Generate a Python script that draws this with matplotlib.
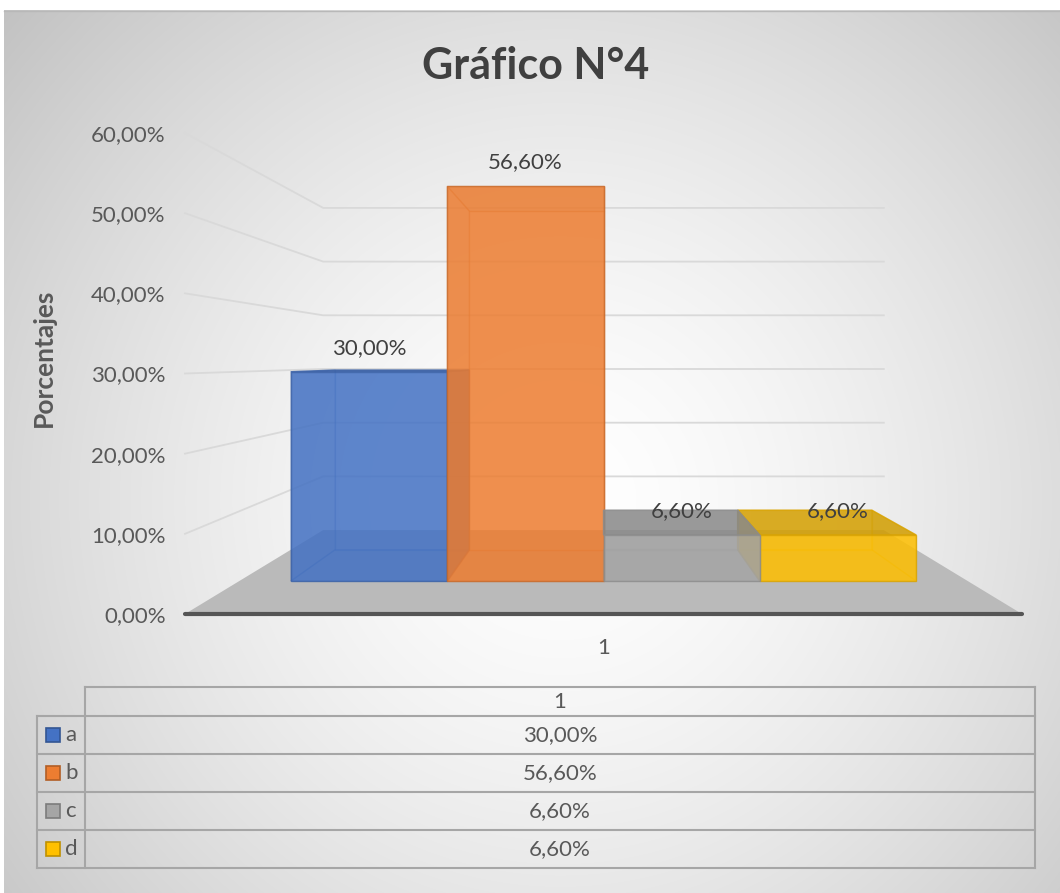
import numpy as np
import matplotlib
matplotlib.use("Agg")
import matplotlib.pyplot as plt
from matplotlib.patches import Polygon, Rectangle
from matplotlib.colors import to_rgb

plt.rcParams['font.family'] = ['Lato', 'DejaVu Sans']

# data
series = ["a", "b", "c", "d"]
values = [0.300, 0.566, 0.066, 0.066]
colors = ["#4472C4", "#ED7D31", "#A5A5A5", "#FFC000"]
category = "1"
yticks = [0.0, 0.1, 0.2, 0.3, 0.4, 0.5, 0.6]
title = "Gráfico N°4"
ylabel = "Porcentajes"

W, H = 1060, 893
TXT = "#595959"
FS = 16

def pct(v):
    return f"{v*100:.2f}%".replace(".", ",")

def frac(x0, y0, x1, y1):
    # pixel box -> figure fraction
    return [x0 / W, 1 - y1 / H, (x1 - x0) / W, (y1 - y0) / H]

def shade(c, f):
    r, g, b = to_rgb(c)
    return (r * f, g * f, b * f)

# 3d look (excel style perspective)
GAP = 0.33
Z_FRONT, Z_BACK, Z_WALL = 0.149, 0.339, 0.493
XC, YH = 2.0, 0.317

def proj(x, y, z):
    s = 1.0 / (1.0 + z)
    return (XC + s * (x - XC), YH + s * (y - YH))

fig = plt.figure(figsize=(W / 100, H / 100), dpi=100)

# background with radial gradient
bg = fig.add_axes([0, 0, 1, 1])
yy, xx = np.mgrid[0:H, 0:W]
d = np.hypot(xx - 560, yy - 500) / 700
g = np.clip(1 - 0.22 * d ** 1.5, 0, 1)
img = np.dstack([g, g, g])
img[:10, :] = 1
img[:, :4] = 1
bg.imshow(img, extent=(0, W, H, 0), aspect="auto", interpolation="bilinear")
bg.plot([4, W], [10.5, 10.5], color="#b8b8b8", lw=1)
bg.set_xlim(0, W)
bg.set_ylim(H, 0)
bg.axis("off")

# main axes: front plane
ax = fig.add_axes(frac(185, 133, 1022, 614))
ax.set_facecolor("none")
ax.set_xlim(-GAP, len(values) + GAP)
ax.set_ylim(0, 0.6)
for sp in ax.spines.values():
    sp.set_visible(False)

xl, xr = -GAP, len(values) + GAP

# gridlines on side wall + back wall
for v in yticks[1:]:
    pts = [proj(xl, v, 0), proj(xl, v, Z_WALL), proj(xr, v, Z_WALL)]
    ax.plot([p[0] for p in pts], [p[1] for p in pts], color="#d9d9d9", lw=1.3, zorder=1, clip_on=False)

# floor
floor = [proj(xl, 0, 0), proj(xr, 0, 0), proj(xr, 0, Z_WALL), proj(xl, 0, Z_WALL)]
ax.add_patch(Polygon(floor, closed=True, facecolor="#bababa", edgecolor="none", zorder=2))
f0, f1 = proj(xl, 0, 0), proj(xr, 0, 0)
ax.plot([f0[0], f1[0]], [f0[1], f1[1]], color="#555555", lw=3, solid_capstyle="round", zorder=3, clip_on=False)

# bars, outer ones first
order = sorted(range(len(values)), key=lambda i: -abs(i + 0.5 - XC))
for i in order:
    v = values[i]
    c = colors[i]
    x0, x1 = i, i + 1
    z0, z1 = Z_FRONT, Z_BACK
    faces = []
    faces.append(([(x0, 0, z1), (x1, 0, z1), (x1, v, z1), (x0, v, z1)], False, 1.0))
    faces.append(([(x0, 0, z0), (x1, 0, z0), (x1, 0, z1), (x0, 0, z1)], False, 0.9))
    faces.append(([(x0, 0, z0), (x0, v, z0), (x0, v, z1), (x0, 0, z1)], x0 > XC, 0.88))
    faces.append(([(x1, 0, z0), (x1, v, z0), (x1, v, z1), (x1, 0, z1)], x1 < XC, 0.88))
    faces.append(([(x0, v, z0), (x1, v, z0), (x1, v, z1), (x0, v, z1)], v < YH, 0.82))
    faces.append(([(x0, 0, z0), (x1, 0, z0), (x1, v, z0), (x0, v, z0)], True, 1.0))
    for pts3, visible, f in faces:
        pts = [proj(*p) for p in pts3]
        ax.add_patch(Polygon(pts, closed=True, facecolor=shade(c, f),
                             alpha=0.8 if visible else 0.28,
                             edgecolor=shade(c, 0.85), lw=1.0, zorder=4))
    ax.annotate(pct(v), xy=proj(i + 0.5, v, Z_FRONT), xytext=(0, 24), textcoords="offset pixels",
                ha="center", va="center", fontsize=FS, color="#404040", zorder=6)

ax.set_yticks(yticks)
ax.set_yticklabels([pct(t) for t in yticks])
ax.set_xticks([len(values) / 2])
ax.set_xticklabels([category])
ax.tick_params(axis="y", length=0, pad=14, labelsize=FS, labelcolor=TXT)
ax.tick_params(axis="x", length=0, pad=17, labelsize=FS, labelcolor=TXT)

fig.text(536 / W, 1 - 66 / H, title, ha="center", va="center", fontsize=31, fontweight="bold", color="#404040")
fig.text(44 / W, 1 - 358 / H, ylabel, ha="center", va="center", rotation=90, fontsize=19, fontweight="bold", color=TXT)

# data table
LC = "#a6a6a6"
tx0, tx1, tl = 85, 1035, 37
rows = [687, 716, 754, 792, 830, 868]
bg.plot([tx0, tx1], [rows[0], rows[0]], color=LC, lw=1.5)
for y in rows[1:]:
    bg.plot([tl, tx1], [y, y], color=LC, lw=1.5)
bg.plot([tx0, tx0], [rows[0], rows[-1]], color=LC, lw=1.5)
bg.plot([tx1, tx1], [rows[0], rows[-1]], color=LC, lw=1.5)
bg.plot([tl, tl], [rows[1], rows[-1]], color=LC, lw=1.5)
cx = (tx0 + tx1) / 2
bg.text(cx, (rows[0] + rows[1]) / 2, category, ha="center", va="center", fontsize=FS, color=TXT)
for k, (name, v, c) in enumerate(zip(series, values, colors)):
    yc = (rows[k + 1] + rows[k + 2]) / 2
    bg.add_patch(Rectangle((46, yc - 7), 14, 14, facecolor=c, edgecolor=shade(c, 0.75), lw=1.2))
    bg.text(65, yc, name, ha="left", va="center", fontsize=FS, color=TXT)
    bg.text(cx, yc, pct(v), ha="center", va="center", fontsize=FS, color=TXT)

fig.savefig("out.png", dpi=100)
